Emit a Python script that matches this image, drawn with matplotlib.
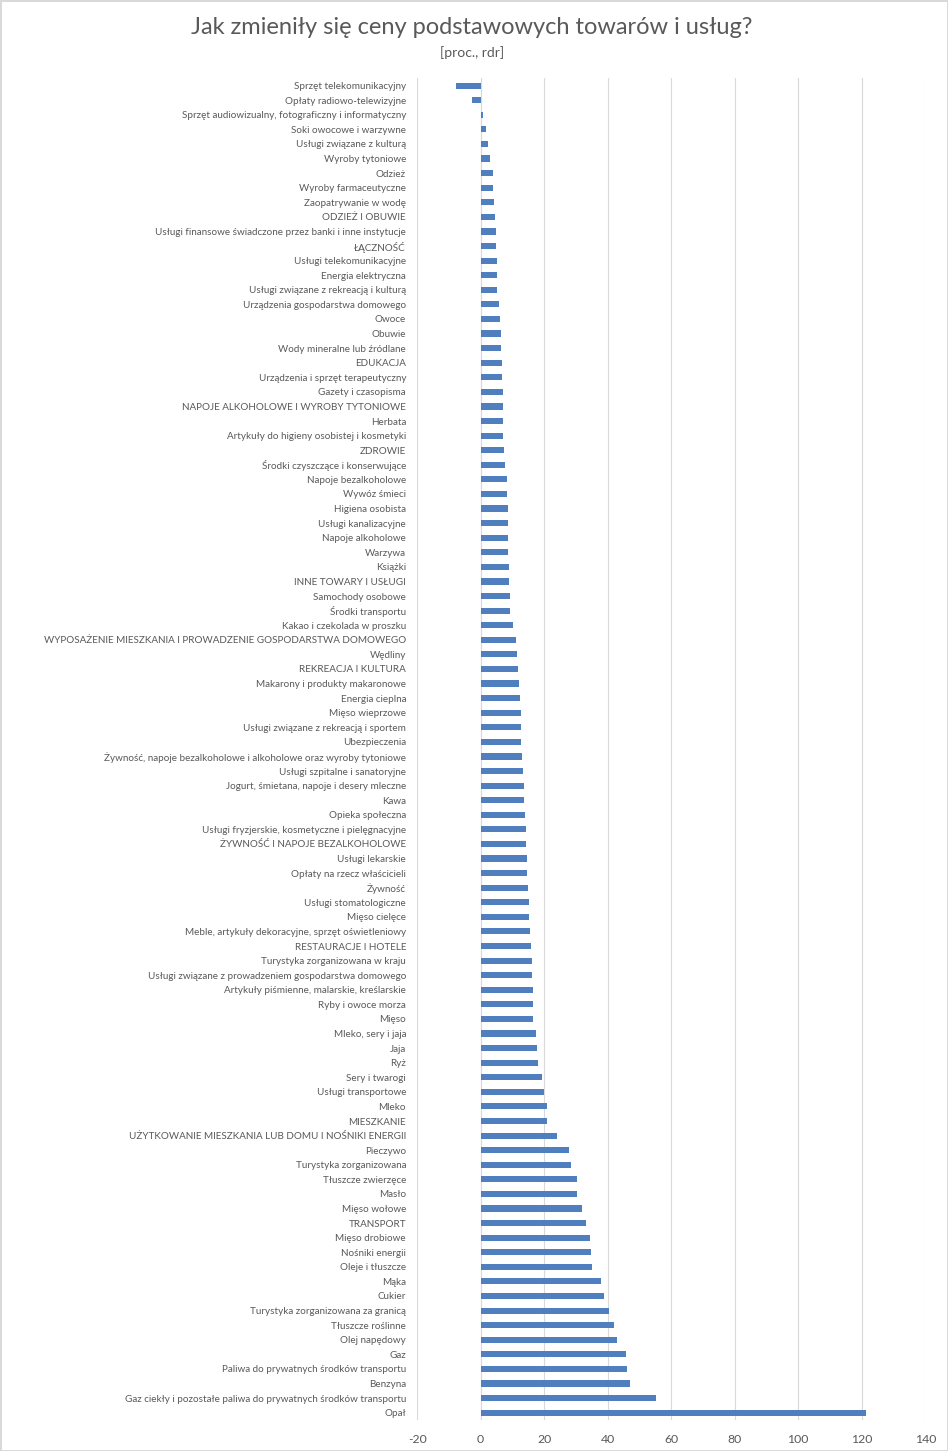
import matplotlib
matplotlib.use('Agg')
import matplotlib.pyplot as plt

plt.rcParams['font.family'] = ['Lato', 'DejaVu Sans']
plt.rcParams['axes.unicode_minus'] = False

kategorie = [
    'Sprzęt telekomunikacyjny', 'Opłaty radiowo-telewizyjne',
    'Sprzęt audiowizualny, fotograficzny i informatyczny', 'Soki owocowe i warzywne',
    'Usługi związane z kulturą', 'Wyroby tytoniowe', 'Odzież', 'Wyroby farmaceutyczne',
    'Zaopatrywanie w wodę', 'ODZIEŻ I OBUWIE',
    'Usługi finansowe świadczone przez banki i inne instytucje', 'ŁĄCZNOŚĆ',
    'Usługi telekomunikacyjne', 'Energia elektryczna', 'Usługi związane z rekreacją i kulturą',
    'Urządzenia gospodarstwa domowego', 'Owoce', 'Obuwie', 'Wody mineralne lub źródlane',
    'EDUKACJA', 'Urządzenia i sprzęt terapeutyczny', 'Gazety i czasopisma',
    'NAPOJE ALKOHOLOWE I WYROBY TYTONIOWE', 'Herbata',
    'Artykuły do higieny osobistej i kosmetyki', 'ZDROWIE', 'Środki czyszczące i konserwujące',
    'Napoje bezalkoholowe', 'Wywóz śmieci', 'Higiena osobista', 'Usługi kanalizacyjne',
    'Napoje alkoholowe', 'Warzywa', 'Książki', 'INNE TOWARY I USŁUGI', 'Samochody osobowe',
    'Środki transportu', 'Kakao i czekolada w proszku',
    'WYPOSAŻENIE MIESZKANIA I PROWADZENIE GOSPODARSTWA DOMOWEGO', 'Wędliny',
    'REKREACJA I KULTURA', 'Makarony i produkty makaronowe', 'Energia cieplna',
    'Mięso wieprzowe', 'Usługi związane z rekreacją i sportem', 'Ubezpieczenia',
    'Żywność, napoje bezalkoholowe i alkoholowe oraz wyroby tytoniowe',
    'Usługi szpitalne i sanatoryjne', 'Jogurt, śmietana, napoje i desery mleczne', 'Kawa',
    'Opieka społeczna', 'Usługi fryzjerskie, kosmetyczne i pielęgnacyjne',
    'ŻYWNOŚĆ I NAPOJE BEZALKOHOLOWE', 'Usługi lekarskie', 'Opłaty na rzecz właścicieli',
    'Żywność', 'Usługi stomatologiczne', 'Mięso cielęce',
    'Meble, artykuły dekoracyjne, sprzęt oświetleniowy', 'RESTAURACJE I HOTELE',
    'Turystyka zorganizowana w kraju', 'Usługi związane z prowadzeniem gospodarstwa domowego',
    'Artykuły piśmienne, malarskie, kreślarskie', 'Ryby i owoce morza', 'Mięso',
    'Mleko, sery i jaja', 'Jaja', 'Ryż', 'Sery i twarogi', 'Usługi transportowe', 'Mleko',
    'MIESZKANIE', 'UŻYTKOWANIE MIESZKANIA LUB DOMU I NOŚNIKI ENERGII', 'Pieczywo',
    'Turystyka zorganizowana', 'Tłuszcze zwierzęce', 'Masło', 'Mięso wołowe', 'TRANSPORT',
    'Mięso drobiowe', 'Nośniki energii', 'Oleje i tłuszcze', 'Mąka', 'Cukier',
    'Turystyka zorganizowana za granicą', 'Tłuszcze roślinne', 'Olej napędowy', 'Gaz',
    'Paliwa do prywatnych środków transportu', 'Benzyna',
    'Gaz ciekły i pozostałe paliwa do prywatnych środków transportu', 'Opał',
]

zmiana = [
    -7.8, -2.6, 0.7, 1.7, 2.3, 2.9, 3.8, 3.8, 4.1, 4.4,
    4.7, 4.7, 5.2, 5.2, 5.2, 5.9, 6.2, 6.5, 6.5, 6.8,
    6.8, 7.1, 7.1, 7.1, 7.1, 7.5, 7.8, 8.4, 8.4, 8.7,
    8.7, 8.7, 8.7, 9.0, 9.0, 9.3, 9.3, 10.2, 11.1, 11.4,
    11.8, 12.1, 12.4, 12.6, 12.6, 12.6, 12.9, 13.2, 13.5, 13.5,
    13.9, 14.2, 14.2, 14.5, 14.5, 14.8, 15.1, 15.1, 15.6, 15.9,
    16.1, 16.1, 16.6, 16.6, 16.6, 17.3, 17.7, 18.1, 19.3, 19.9,
    20.8, 20.8, 24.0, 27.9, 28.6, 30.3, 30.3, 32.0, 33.3, 34.5,
    34.7, 35.1, 37.8, 38.9, 40.4, 42.0, 42.9, 45.8, 46.2, 46.9,
    55.3, 121.5,
]

fig = plt.figure(figsize=(9.48, 14.51), dpi=100)
fig.patch.set_edgecolor('#D9D9D9')
fig.patch.set_linewidth(2)
ax = fig.add_axes([0.44, 0.0214, 0.536, 0.9246])

pozycje = list(range(len(kategorie)))
ax.barh(pozycje, zmiana, height=0.42, color='#4F7FBF', zorder=3)
ax.set_yticks(pozycje)
ax.set_yticklabels(kategorie, fontsize=7.15, color='#595959')
ax.set_ylim(len(kategorie) - 0.5, -0.5)

ax.set_xlim(-20, 140)
ax.set_xticks(range(-20, 141, 20))
ax.tick_params(axis='x', labelsize=8.8, colors='#595959', length=0, pad=10)
ax.tick_params(axis='y', length=0, pad=8)
ax.grid(axis='x', color='#D9D9D9', linewidth=0.8, zorder=0)
ax.axvline(0, color='#D9D9D9', linewidth=0.8, zorder=1)
for s in ax.spines.values():
    s.set_visible(False)

fig.text(0.498, 0.981, 'Jak zmieniły się ceny podstawowych towarów i usług?',
         ha='center', va='center', fontsize=17, color='#595959')
fig.text(0.498, 0.964, '[proc., rdr]', ha='center', va='center',
         fontsize=10, color='#595959')

fig.savefig('out.png', dpi=100)
